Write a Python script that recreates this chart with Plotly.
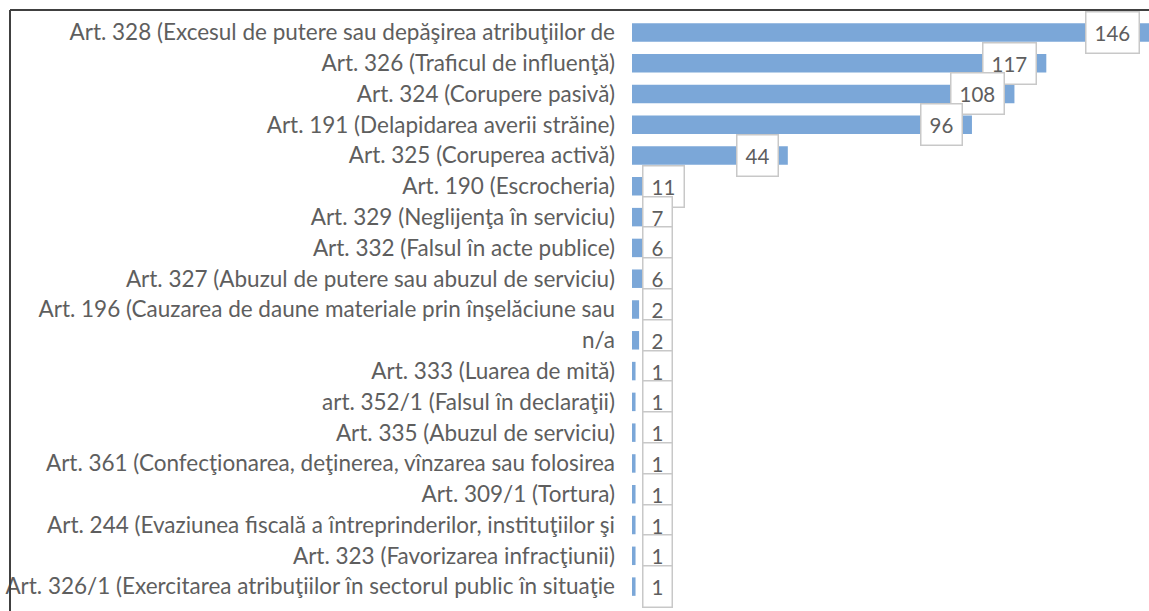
import plotly.graph_objects as go

categories = [
    "Art. 328 (Excesul de putere sau depăşirea atribuţiilor de",
    "Art. 326 (Traficul de influenţă)",
    "Art. 324 (Corupere pasivă)",
    "Art. 191 (Delapidarea averii străine)",
    "Art. 325 (Coruperea activă)",
    "Art. 190 (Escrocheria)",
    "Art. 329 (Neglijenţa în serviciu)",
    "Art. 332 (Falsul în acte publice)",
    "Art. 327 (Abuzul de putere sau abuzul de serviciu)",
    "Art. 196 (Cauzarea de daune materiale prin înşelăciune sau",
    "n/a",
    "Art. 333 (Luarea de mită)",
    "art. 352/1 (Falsul în declaraţii)",
    "Art. 335 (Abuzul de serviciu)",
    "Art. 361 (Confecţionarea, deţinerea, vînzarea sau folosirea",
    "Art. 309/1 (Tortura)",
    "Art. 244 (Evaziunea fiscală a întreprinderilor, instituţiilor şi",
    "Art. 323 (Favorizarea infracţiunii)",
    "Art. 326/1 (Exercitarea atribuţiilor în sectorul public în situaţie",
]
values = [146, 117, 108, 96, 44, 11, 7, 6, 6, 2, 2, 1, 1, 1, 1, 1, 1, 1, 1]

W, H = 1149, 611
ML, MR, MT, MB = 632, 0, 17, 9
PW = W - ML - MR
PH = H - MT - MB
TEXT = "#5E5E5E"
BAR = "#7BA7D8"
FONT = "Lato, Open Sans, sans-serif"
INSIDE_MIN = 20

fig = go.Figure(go.Bar(
    x=values, y=categories, orientation="h",
    marker=dict(color=BAR, line=dict(width=0)),
    width=0.6, hoverinfo="skip",
))

annotations = []
for c, v in zip(categories, values):
    if v >= INSIDE_MIN:
        ann = dict(x=v, xanchor="right", xshift=-9)
    else:
        ann = dict(x=0, xanchor="left", xshift=10)
    ann.update(
        y=c, xref="x", yref="y", text=str(v), showarrow=False, yanchor="middle",
        font=dict(family=FONT, size=20.5, color=TEXT),
        bgcolor="white", bordercolor="#C8C8C8", borderwidth=1.5, borderpad=8,
    )
    annotations.append(ann)

def px_x(p):
    return (p - ML) / PW

def px_y(p):
    return 1 - (p - MT) / PH

shapes = [
    dict(type="line", xref="paper", yref="paper", x0=px_x(10), x1=px_x(W), y0=px_y(10), y1=px_y(10),
         line=dict(color="#404040", width=2)),
    dict(type="line", xref="paper", yref="paper", x0=px_x(10), x1=px_x(10), y0=px_y(10), y1=px_y(H),
         line=dict(color="#404040", width=2)),
]

fig.update_layout(
    width=W, height=H,
    margin=dict(l=ML, r=MR, t=MT, b=MB, pad=0),
    paper_bgcolor="white", plot_bgcolor="white",
    showlegend=False,
    annotations=annotations,
    shapes=shapes,
    xaxis=dict(range=[0, 146], visible=False, fixedrange=True),
    yaxis=dict(range=[len(categories) - 0.5, -0.5], showgrid=False, zeroline=False,
               showline=False, ticks="", ticklabelstandoff=16, fixedrange=True,
               tickfont=dict(family=FONT, size=22.5, color=TEXT)),
)

fig.write_html(
    "out.html",
    config={"displayModeBar": False},
    post_script="document.body.style.margin='0';document.body.style.overflow='hidden';",
)
